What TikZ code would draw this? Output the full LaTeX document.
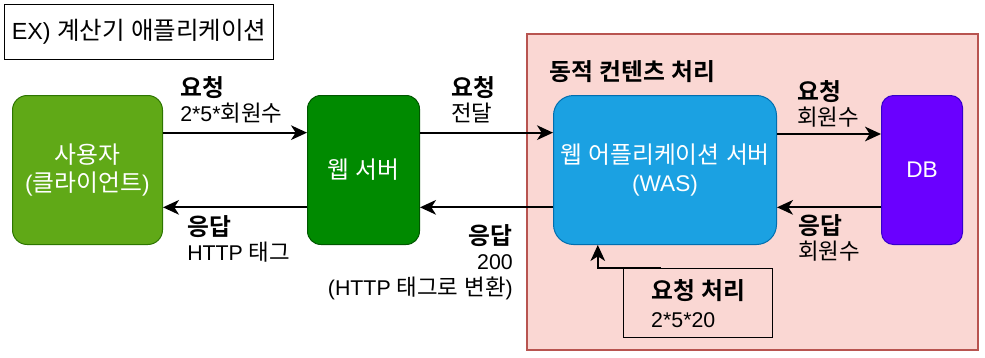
\documentclass[tikz,border=0pt]{standalone}
\usepackage{fontspec}
\setmainfont{Liberation Sans}
\newfontfamily\krfont{Noto Sans CJK KR}[BoldFont={Noto Sans CJK KR Bold}, Scale=1.05]
\usepackage{xcolor}
\usetikzlibrary{positioning,arrows.meta,calc}

% Hangul syllables switch to the Korean font
\XeTeXinterchartokenstate=1
\newXeTeXintercharclass\hangulclass
\count255="AC00
\loop
\XeTeXcharclass\count255=\hangulclass
\ifnum\count255<"D7A3 \advance\count255 by 1 \repeat
\XeTeXinterchartoks 0 \hangulclass = {\begingroup\krfont}
\XeTeXinterchartoks 4095 \hangulclass = {\begingroup\krfont}
\XeTeXinterchartoks \hangulclass 0 = {\endgroup}
\XeTeXinterchartoks \hangulclass 4095 = {\endgroup}

\definecolor{usergreen}{HTML}{60A917}
\definecolor{userline}{HTML}{2D7600}
\definecolor{webgreen}{HTML}{008A00}
\definecolor{webline}{HTML}{005700}
\definecolor{wasblue}{HTML}{1BA1E2}
\definecolor{wasline}{HTML}{006EAF}
\definecolor{dbviolet}{HTML}{6A00FF}
\definecolor{dbline}{HTML}{3700CC}
\definecolor{zonefill}{HTML}{FAD7D3}
\definecolor{zoneline}{HTML}{B85450}

\newcommand{\hd}[1]{{\fontsize{17}{20}\selectfont\bfseries #1}}

\begin{document}
\begin{tikzpicture}[
		x=0.75pt, y=-0.75pt,
		box/.style={
			draw,
			line width=0.75pt,
			text=white,
			align=center,
			minimum height=111.75pt,
			font=\fontsize{17}{21}\selectfont
		},
		lbl/.style={align=left, inner sep=0pt, font=\fontsize{16}{19}\selectfont},
		flow/.style={-{Stealth[length=12pt,width=11pt,inset=3.5pt]}, line width=1.3pt}
		]
		
		\useasboundingbox (0,0) rectangle (985,357);
		
		\draw[fill=zonefill, draw=zoneline, line width=1pt] (527,34) rectangle (978,350);
		
		\node[draw, line width=1pt, anchor=north west, minimum width=201.75pt,
		minimum height=41.25pt, font=\fontsize{17.5}{20}\selectfont] (title) at (4,4)
		{EX) 계산기 애플리케이션};
		
		\node[anchor=west, inner sep=0pt] (zonetitle) at (549,72)
		{\hd{동적 컨텐츠 처리}};
		
		\node[box, fill=usergreen, draw=userline, minimum width=112.5pt,
		rounded corners=11pt, anchor=north west] (user) at (12,95)
		{사용자\\(클라이언트)};
		
		\node[box, fill=webgreen, draw=webline, minimum width=84pt,
		rounded corners=10pt, right=108pt of user] (web)
		{웹 서버};
		
		\node[box, fill=wasblue, draw=wasline, minimum width=167.25pt,
		rounded corners=15pt, right=99.75pt of web] (was)
		{웹 어플리케이션 서버\\(WAS)};
		
		\node[box, fill=dbviolet, draw=dbline, minimum width=60.75pt,
		rounded corners=9pt, right=78pt of was] (db)
		{DB};
		
		\node[draw, line width=1pt, anchor=north west, minimum width=111.75pt,
		minimum height=51.75pt, align=left, font=\fontsize{16}{21}\selectfont] (proc) at (623,268)
		{\hd{요청 처리}\\2*5*20};
		
		% request path
		\draw[flow] ([yshift=28pt]user.east) -- ([yshift=28pt]web.west);
		\draw[flow] ([yshift=28pt]web.east) -- ([yshift=28pt]was.west);
		\draw[flow] ([yshift=27pt]was.east) -- ([yshift=27pt]db.west);
		
		% response path
		\draw[flow] ([yshift=-28pt]db.west) -- ([yshift=-28pt]was.east);
		\draw[flow] ([yshift=-28pt]was.west) -- ([yshift=-28pt]web.east);
		\draw[flow] ([yshift=-28pt]web.west) -- ([yshift=-28pt]user.east);
		
		\draw[flow] ($(proc.north west)!0.25!(proc.north east)$)
		-| ($(was.south west)!0.2!(was.south east)$);
		
		\node[lbl, anchor=west] (reqlbl) at (180,100) {\hd{요청}\\2*5*회원수};
		\node[lbl, anchor=west] (fwdlbl) at (451,100) {\hd{요청}\\전달};
		\node[lbl, anchor=west] (dbreqlbl) at (797,104) {\hd{요청}\\회원수};
		\node[lbl, anchor=west] (dbanslbl) at (798,238) {\hd{응답}\\회원수};
		\node[lbl, anchor=west] (anslbl) at (187,239) {\hd{응답}\\HTTP 태그};
		\node[lbl, align=right, anchor=east] (codelbl) at (513,262) {\hd{응답}\\200\\(HTTP 태그로 변환)};
		
	\end{tikzpicture}
\end{document}
